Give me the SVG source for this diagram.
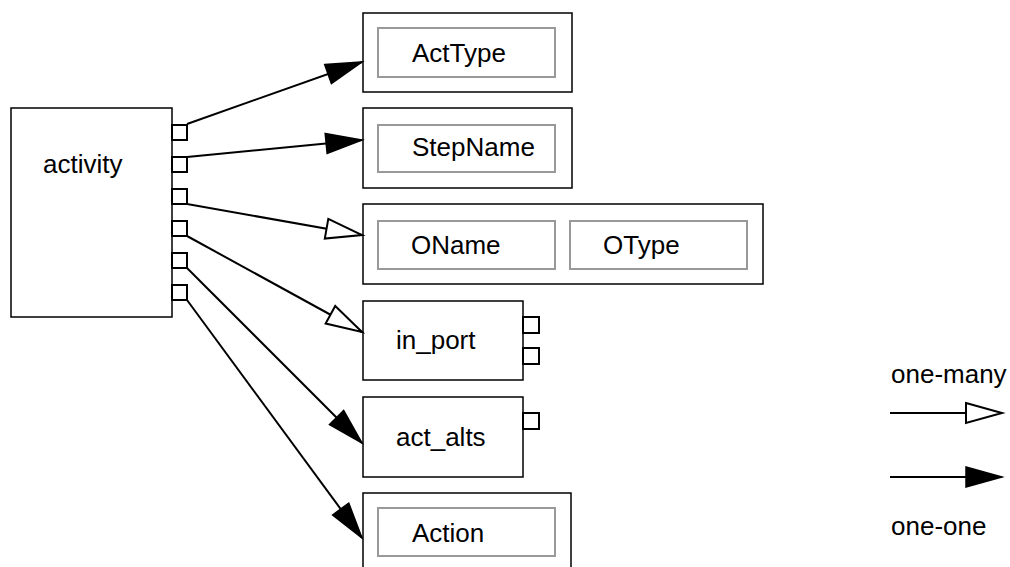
<svg xmlns="http://www.w3.org/2000/svg" width="1010" height="567" viewBox="0 0 1010 567">
  <style>
    .box { fill: #fff; stroke: #000; stroke-width: 1.5; }
    .field { fill: #fff; stroke: #999; stroke-width: 2; }
    .port { fill: #fff; stroke: #000; stroke-width: 2; }
    .lbl { font-family: "Liberation Sans", Arial, sans-serif; font-size: 26px; fill: #000; }
    .edge { fill: none; stroke: #000; stroke-width: 2; }
    .one { marker-end: url(#headFilled); }
    .many { marker-end: url(#headOpen); }
  </style>
  <defs>
    <marker id="headFilled" markerUnits="userSpaceOnUse" markerWidth="40" markerHeight="24" refX="37" refY="11" orient="auto" overflow="visible">
      <path d="M1,1 L37,11 L1,21 z" fill="#000" stroke="#000" stroke-width="1.5"/>
    </marker>
    <marker id="headOpen" markerUnits="userSpaceOnUse" markerWidth="40" markerHeight="24" refX="37" refY="11" orient="auto" overflow="visible">
      <path d="M1,1 L37,11 L1,21 z" fill="#fff" stroke="#000" stroke-width="2"/>
    </marker>
  </defs>

  <rect width="1010" height="567" fill="#fff"/>

  <!-- source entity with its six ports -->
  <g id="activity">
    <rect class="box" x="11" y="108" width="161" height="209"/>
    <text class="lbl" x="43" y="173">activity</text>
    <rect class="port" x="172" y="125" width="15" height="15"/>
    <rect class="port" x="172" y="157" width="15" height="15"/>
    <rect class="port" x="172" y="189" width="15" height="15"/>
    <rect class="port" x="172" y="221" width="15" height="15"/>
    <rect class="port" x="172" y="253" width="15" height="15"/>
    <rect class="port" x="172" y="285" width="15" height="15"/>
  </g>

  <g id="ActType">
    <rect class="box" x="363" y="13" width="209" height="79"/>
    <rect class="field" x="378" y="28" width="177" height="49"/>
    <text class="lbl" x="412" y="62">ActType</text>
  </g>

  <g id="StepName">
    <rect class="box" x="363" y="108" width="209" height="80"/>
    <rect class="field" x="378" y="125" width="177" height="47"/>
    <text class="lbl" x="412" y="156">StepName</text>
  </g>

  <g id="ONameOType">
    <rect class="box" x="363" y="204" width="400" height="80"/>
    <rect class="field" x="378" y="221" width="177" height="48"/>
    <text class="lbl" x="411" y="254">OName</text>
    <rect class="field" x="570" y="221" width="177" height="48"/>
    <text class="lbl" x="603" y="254">OType</text>
  </g>

  <g id="in_port">
    <rect class="box" x="363" y="301" width="160" height="79"/>
    <text class="lbl" x="396" y="349">in_port</text>
    <rect class="port" x="523" y="317" width="16" height="16"/>
    <rect class="port" x="523" y="348" width="16" height="16"/>
  </g>

  <g id="act_alts">
    <rect class="box" x="363" y="397" width="160" height="80"/>
    <text class="lbl" x="396" y="446">act_alts</text>
    <rect class="port" x="523" y="413" width="16" height="16"/>
  </g>

  <g id="Action">
    <rect class="box" x="363" y="493" width="208" height="90"/>
    <rect class="field" x="378" y="508" width="177" height="48"/>
    <text class="lbl" x="412" y="542">Action</text>
  </g>

  <!-- relationships from activity ports -->
  <g id="connectors">
    <line class="edge one" x1="187" y1="124" x2="362" y2="62"/>
    <line class="edge one" x1="187" y1="157" x2="362" y2="140"/>
    <line class="edge many" x1="187" y1="204" x2="362" y2="235"/>
    <line class="edge many" x1="187" y1="236" x2="362" y2="332"/>
    <line class="edge one" x1="187" y1="268" x2="362" y2="443"/>
    <line class="edge one" x1="187" y1="300" x2="362" y2="538"/>
  </g>

  <!-- legend -->
  <g id="legend">
    <text class="lbl" x="891" y="383">one-many</text>
    <line class="edge many" x1="890" y1="413" x2="1002" y2="413"/>
    <line class="edge one" x1="890" y1="477" x2="1002" y2="477"/>
    <text class="lbl" x="891" y="535">one-one</text>
  </g>
</svg>
